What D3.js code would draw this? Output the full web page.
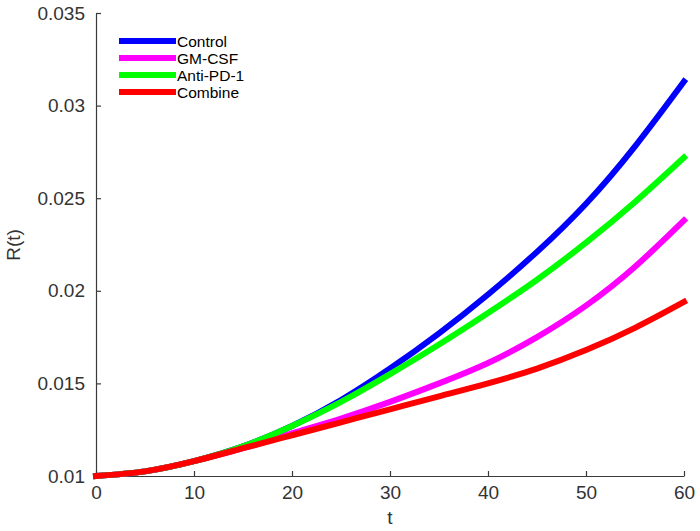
<!DOCTYPE html>
<html>
<head>
<meta charset="utf-8">
<script src="https://cdn.jsdelivr.net/npm/d3@7"></script>
<style>
  body { margin: 0; background: #fff; }
  svg { display: block; }
  text { font-family: "Liberation Sans", Arial, sans-serif; }
</style>
</head>
<body>
<svg id="chart" width="700" height="531"></svg>
<script>
const tValues = [0, 5, 10, 15, 20, 25, 30, 35, 40, 45, 50, 55, 60];
const control  = [0.0100, 0.01025, 0.0108, 0.0116, 0.0127, 0.0141, 0.0158, 0.0177, 0.0198, 0.0221, 0.0247, 0.0278, 0.0313];
const gmcsf    = [0.0100, 0.01025, 0.0108, 0.0115, 0.0123, 0.0131, 0.0140, 0.0150, 0.0161, 0.0175, 0.0192, 0.0213, 0.0238];
const antiPD1  = [0.0100, 0.01025, 0.0108, 0.0116, 0.0127, 0.0140, 0.0155, 0.0171, 0.0188, 0.0206, 0.0226, 0.0248, 0.0272];
const combine  = [0.0100, 0.01025, 0.0108, 0.0115, 0.0122, 0.0129, 0.0136, 0.0143, 0.0150, 0.0158, 0.0168, 0.0180, 0.0194];

const seriesNames  = ["Control", "GM-CSF", "Anti-PD-1", "Combine"];
const seriesColors = ["#0000ff", "#ff00ff", "#00ff00", "#ff0000"];
const seriesValues = [control, gmcsf, antiPD1, combine];

const xTicks = [0, 10, 20, 30, 40, 50, 60];
const yTicks = [0.01, 0.015, 0.02, 0.025, 0.03, 0.035];
const yTickLabels = ["0.01", "0.015", "0.02", "0.025", "0.03", "0.035"];

(function () {
const svg = d3.select("#chart");
const mLeft = 96, mRight = 684, mTop = 13, mBottom = 476;

const x = d3.scaleLinear().domain([0, 60]).range([mLeft, mRight]);
const y = d3.scaleLinear().domain([0.01, 0.035]).range([mBottom, mTop]);

const axisColor = "#3a3a3a";
const textColor = "#333";

// X axis
const xAxis = svg.append("g").attr("transform", `translate(0,${mBottom})`)
  .call(d3.axisBottom(x).tickValues(xTicks).tickSizeInner(-5).tickSizeOuter(0).tickPadding(10));
xAxis.select(".domain").attr("stroke", axisColor).attr("stroke-width", 1.2);
xAxis.selectAll(".tick line").attr("stroke", axisColor).attr("stroke-width", 1.2);
xAxis.selectAll(".tick text").attr("fill", textColor).style("font-size", "19px")
  .style("font-family", "'Liberation Sans', Arial, sans-serif");

// Y axis
const yAxis = svg.append("g").attr("transform", `translate(${mLeft},0)`)
  .call(d3.axisLeft(y).tickValues(yTicks).tickFormat((d, i) => yTickLabels[i])
    .tickSizeInner(-5).tickSizeOuter(0).tickPadding(11));
yAxis.select(".domain").attr("stroke", axisColor).attr("stroke-width", 1.2);
yAxis.selectAll(".tick line").attr("stroke", axisColor).attr("stroke-width", 1.2);
yAxis.selectAll(".tick text").attr("fill", textColor).style("font-size", "19px")
  .style("font-family", "'Liberation Sans', Arial, sans-serif");

// Axis labels
svg.append("text").attr("x", (mLeft + mRight) / 2).attr("y", 524)
  .attr("text-anchor", "middle").attr("fill", textColor).style("font-size", "19px").text("t");
svg.append("text").attr("transform", `translate(20,245) rotate(-90)`)
  .attr("text-anchor", "middle").attr("fill", textColor).style("font-size", "19px").text("R(t)");

// Lines
const line = d3.line().x((d, i) => x(tValues[i])).y(d => y(d)).curve(d3.curveNatural);
seriesValues.forEach((vals, k) => {
  svg.append("path").datum(vals)
    .attr("d", line)
    .attr("fill", "none")
    .attr("stroke", seriesColors[k])
    .attr("stroke-width", 6)
    .attr("stroke-linecap", "square");
});

// Legend
const legend = svg.append("g");
seriesNames.forEach((name, k) => {
  const ly = 41 + k * 17;
  legend.append("line").attr("x1", 122).attr("x2", 173).attr("y1", ly).attr("y2", ly)
    .attr("stroke", seriesColors[k]).attr("stroke-width", 6).attr("stroke-linecap", "square");
  legend.append("text").attr("x", 177).attr("y", ly + 5.5).attr("fill", "#000")
    .style("font-size", "15.5px").text(name);
});
})();
</script>
</body>
</html>
